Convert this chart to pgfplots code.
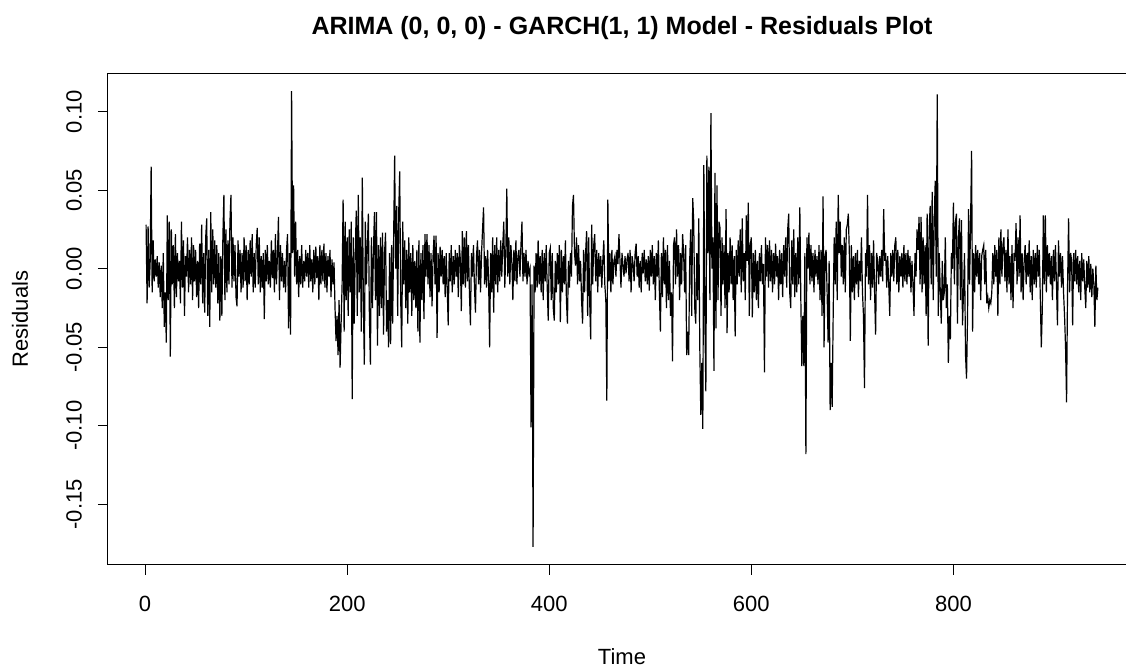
\documentclass[border=0pt]{standalone}
\usepackage{fontspec}
\setmainfont{Liberation Sans}
\usepackage{pgfplots}
\usepackage{pgfplotstable}
\pgfplotsset{compat=1.18}
\pgfplotstableread[header=false,row sep=\\]{
0.028\\ -0.022\\ 0.027\\ -0.012\\ 0.003\\ 0.065\\ -0.015\\ 0.018\\ -0.008\\ 0.006\\
-0.005\\ 0.008\\ -0.012\\ 0.004\\ -0.018\\ 0.002\\ -0.025\\ 0.010\\ -0.037\\ -0.015\\
-0.047\\ 0.034\\ -0.020\\ 0.030\\ -0.056\\ 0.025\\ -0.010\\ 0.015\\ -0.025\\ 0.022\\
-0.018\\ 0.010\\ -0.008\\ 0.005\\ -0.022\\ 0.030\\ -0.012\\ 0.018\\ -0.030\\ 0.008\\
-0.005\\ 0.020\\ -0.015\\ 0.012\\ -0.010\\ 0.020\\ -0.020\\ 0.015\\ -0.008\\ 0.012\\
-0.018\\ 0.005\\ -0.025\\ 0.016\\ -0.010\\ 0.028\\ -0.022\\ 0.010\\ -0.028\\ 0.020\\
0.032\\ -0.030\\ 0.012\\ -0.037\\ 0.036\\ -0.015\\ 0.025\\ -0.010\\ 0.018\\ -0.012\\
0.015\\ -0.022\\ 0.010\\ -0.033\\ 0.008\\ -0.030\\ 0.020\\ 0.047\\ -0.020\\ 0.025\\
-0.015\\ 0.018\\ -0.010\\ 0.030\\ 0.047\\ -0.012\\ 0.020\\ -0.008\\ 0.015\\ -0.018\\
-0.024\\ 0.018\\ -0.005\\ 0.012\\ -0.015\\ 0.010\\ -0.012\\ 0.020\\ -0.008\\ 0.015\\
-0.020\\ 0.012\\ -0.010\\ 0.018\\ -0.005\\ 0.022\\ -0.015\\ 0.010\\ -0.012\\ 0.015\\
0.026\\ -0.010\\ 0.020\\ -0.015\\ 0.008\\ -0.012\\ 0.010\\ -0.032\\ 0.012\\ -0.008\\
0.015\\ -0.010\\ 0.005\\ -0.012\\ 0.018\\ -0.006\\ 0.012\\ -0.015\\ 0.022\\ -0.010\\
0.008\\ 0.033\\ -0.020\\ 0.015\\ -0.008\\ 0.010\\ -0.012\\ 0.005\\ -0.015\\ 0.012\\
0.022\\ -0.038\\ 0.010\\ -0.042\\ 0.113\\ 0.010\\ 0.053\\ -0.005\\ 0.030\\ -0.010\\
0.012\\ -0.018\\ 0.008\\ -0.010\\ 0.015\\ -0.012\\ 0.005\\ -0.008\\ 0.012\\ -0.005\\
0.010\\ -0.012\\ 0.015\\ -0.008\\ 0.006\\ -0.015\\ 0.012\\ -0.010\\ 0.014\\ -0.006\\
0.008\\ -0.020\\ 0.015\\ -0.010\\ 0.012\\ -0.008\\ 0.016\\ -0.012\\ 0.010\\ -0.015\\
0.008\\ -0.005\\ 0.012\\ -0.018\\ 0.006\\ -0.010\\ 0.004\\ -0.025\\ -0.046\\ -0.030\\
-0.055\\ -0.020\\ -0.063\\ -0.035\\ -0.010\\ 0.044\\ -0.040\\ 0.030\\ -0.020\\ 0.020\\
-0.030\\ 0.025\\ -0.015\\ 0.030\\ -0.083\\ 0.020\\ -0.035\\ 0.010\\ 0.037\\ -0.030\\
0.047\\ -0.015\\ 0.020\\ -0.040\\ 0.058\\ -0.020\\ -0.061\\ 0.030\\ -0.010\\ 0.015\\
0.035\\ -0.030\\ -0.061\\ 0.020\\ -0.025\\ 0.010\\ 0.036\\ -0.020\\ 0.036\\ -0.049\\
0.015\\ -0.030\\ 0.020\\ -0.025\\ 0.023\\ -0.042\\ 0.010\\ 0.023\\ -0.040\\ -0.020\\
-0.050\\ 0.010\\ -0.048\\ 0.015\\ -0.035\\ 0.020\\ 0.072\\ 0.000\\ 0.040\\ -0.030\\
0.035\\ 0.062\\ -0.020\\ -0.050\\ 0.030\\ -0.010\\ 0.018\\ -0.025\\ 0.012\\ -0.035\\
0.020\\ -0.015\\ 0.010\\ -0.030\\ 0.015\\ -0.020\\ 0.005\\ -0.025\\ 0.012\\ -0.040\\
0.018\\ -0.047\\ 0.010\\ -0.020\\ 0.015\\ -0.032\\ 0.022\\ -0.005\\ 0.022\\ -0.010\\
0.015\\ -0.018\\ 0.010\\ -0.024\\ 0.008\\ 0.021\\ -0.010\\ 0.021\\ -0.044\\ 0.010\\
-0.015\\ 0.014\\ -0.005\\ 0.012\\ -0.010\\ 0.008\\ -0.018\\ 0.010\\ -0.012\\ -0.036\\
0.010\\ -0.008\\ 0.015\\ -0.015\\ 0.008\\ -0.010\\ 0.012\\ -0.005\\ 0.010\\ -0.018\\
0.015\\ 0.006\\ -0.027\\ 0.024\\ -0.010\\ 0.020\\ -0.012\\ 0.024\\ -0.008\\ 0.015\\
-0.015\\ -0.036\\ 0.010\\ -0.005\\ 0.015\\ -0.012\\ -0.028\\ 0.008\\ 0.018\\ -0.010\\
0.012\\ -0.015\\ 0.010\\ 0.025\\ 0.039\\ -0.010\\ 0.008\\ -0.012\\ 0.012\\ -0.008\\
-0.050\\ 0.010\\ -0.015\\ 0.020\\ -0.028\\ 0.015\\ -0.010\\ 0.020\\ -0.015\\ 0.012\\
-0.008\\ 0.018\\ -0.005\\ 0.015\\ 0.030\\ -0.012\\ 0.010\\ 0.051\\ -0.005\\ 0.020\\
-0.010\\ 0.015\\ 0.005\\ -0.020\\ 0.012\\ -0.008\\ 0.018\\ -0.010\\ 0.008\\ 0.012\\
-0.005\\ 0.015\\ 0.030\\ -0.008\\ 0.010\\ -0.005\\ 0.012\\ -0.010\\ 0.005\\ -0.003\\
0.000\\ -0.101\\ -0.010\\ -0.177\\ 0.002\\ -0.015\\ 0.010\\ -0.012\\ 0.018\\ -0.010\\
0.008\\ -0.015\\ 0.012\\ -0.020\\ 0.010\\ -0.008\\ 0.015\\ -0.012\\ -0.033\\ 0.010\\
0.013\\ -0.020\\ 0.010\\ -0.025\\ -0.033\\ 0.005\\ -0.015\\ 0.010\\ -0.010\\ 0.015\\
-0.034\\ 0.012\\ -0.015\\ 0.008\\ -0.010\\ 0.018\\ -0.020\\ -0.035\\ 0.005\\ -0.012\\
0.010\\ -0.005\\ 0.040\\ 0.047\\ 0.010\\ 0.002\\ 0.020\\ -0.010\\ 0.015\\ -0.008\\
0.005\\ -0.020\\ -0.035\\ 0.012\\ -0.015\\ 0.010\\ 0.024\\ -0.030\\ 0.020\\ -0.020\\
-0.045\\ 0.028\\ -0.010\\ 0.015\\ 0.022\\ -0.008\\ 0.012\\ -0.015\\ 0.010\\ -0.005\\
0.008\\ -0.012\\ 0.005\\ 0.018\\ -0.010\\ -0.020\\ -0.084\\ 0.044\\ -0.008\\ 0.010\\
-0.015\\ 0.012\\ -0.010\\ 0.005\\ 0.008\\ -0.005\\ 0.012\\ 0.003\\ 0.022\\ 0.005\\
-0.012\\ 0.010\\ 0.002\\ -0.005\\ 0.008\\ -0.003\\ 0.006\\ 0.010\\ -0.008\\ 0.012\\
-0.015\\ 0.008\\ 0.003\\ -0.008\\ 0.010\\ 0.016\\ -0.005\\ 0.008\\ -0.012\\ 0.005\\
-0.015\\ 0.010\\ -0.003\\ 0.012\\ -0.008\\ 0.006\\ -0.010\\ 0.008\\ -0.014\\ 0.012\\
-0.005\\ 0.015\\ -0.010\\ 0.008\\ -0.020\\ 0.010\\ -0.005\\ 0.018\\ -0.015\\ -0.040\\
0.010\\ -0.018\\ 0.020\\ -0.010\\ 0.012\\ -0.025\\ 0.015\\ -0.020\\ 0.005\\ -0.030\\
-0.015\\ -0.059\\ 0.015\\ 0.020\\ -0.010\\ 0.025\\ -0.005\\ 0.015\\ -0.020\\ 0.010\\
-0.010\\ 0.022\\ 0.010\\ -0.015\\ 0.015\\ -0.055\\ -0.040\\ -0.055\\ 0.005\\ 0.025\\
-0.030\\ 0.045\\ 0.030\\ -0.025\\ -0.035\\ 0.010\\ -0.020\\ 0.032\\ -0.050\\ -0.093\\
-0.060\\ -0.102\\ 0.066\\ -0.030\\ -0.078\\ 0.072\\ 0.010\\ 0.065\\ -0.020\\ 0.099\\
0.000\\ 0.020\\ -0.065\\ 0.061\\ -0.038\\ 0.053\\ -0.020\\ 0.030\\ 0.026\\ -0.030\\
0.020\\ -0.010\\ 0.015\\ -0.025\\ 0.038\\ -0.041\\ 0.010\\ -0.015\\ 0.020\\ -0.010\\
0.015\\ -0.020\\ 0.008\\ -0.043\\ 0.012\\ -0.010\\ 0.018\\ -0.005\\ 0.025\\ -0.015\\
0.032\\ -0.008\\ 0.010\\ -0.020\\ 0.034\\ 0.005\\ 0.042\\ -0.030\\ 0.015\\ 0.020\\
-0.031\\ 0.010\\ -0.015\\ 0.012\\ -0.020\\ 0.005\\ -0.025\\ 0.010\\ -0.008\\ 0.015\\
-0.010\\ 0.003\\ -0.066\\ 0.020\\ -0.005\\ 0.015\\ -0.012\\ 0.018\\ -0.008\\ 0.012\\
-0.015\\ 0.010\\ -0.010\\ 0.016\\ -0.005\\ 0.008\\ -0.020\\ 0.012\\ -0.010\\ 0.010\\
-0.018\\ 0.015\\ -0.005\\ 0.020\\ -0.012\\ 0.025\\ 0.035\\ -0.015\\ -0.025\\ 0.018\\
-0.010\\ 0.025\\ -0.018\\ 0.010\\ -0.015\\ 0.020\\ -0.010\\ 0.039\\ -0.020\\ -0.062\\
-0.030\\ -0.062\\ 0.010\\ -0.118\\ 0.020\\ 0.000\\ 0.023\\ -0.010\\ 0.015\\ -0.008\\
0.010\\ -0.015\\ 0.012\\ -0.005\\ 0.008\\ -0.010\\ 0.015\\ -0.020\\ 0.012\\ -0.030\\
0.046\\ -0.050\\ 0.008\\ 0.012\\ -0.015\\ -0.047\\ 0.005\\ -0.090\\ -0.060\\ -0.088\\
-0.030\\ 0.020\\ -0.010\\ 0.030\\ -0.020\\ 0.047\\ 0.010\\ 0.030\\ -0.005\\ 0.015\\
-0.010\\ 0.020\\ -0.015\\ 0.025\\ 0.028\\ 0.035\\ 0.010\\ -0.046\\ 0.015\\ -0.015\\
0.008\\ -0.020\\ 0.010\\ -0.010\\ 0.012\\ -0.018\\ 0.005\\ -0.008\\ 0.020\\ -0.015\\
-0.030\\ -0.076\\ 0.010\\ -0.005\\ 0.047\\ -0.010\\ 0.015\\ -0.020\\ 0.010\\ -0.012\\
0.018\\ -0.015\\ -0.042\\ 0.010\\ 0.005\\ -0.010\\ 0.008\\ -0.005\\ 0.012\\ -0.008\\
0.038\\ 0.005\\ 0.010\\ -0.012\\ 0.008\\ -0.010\\ -0.030\\ 0.010\\ -0.005\\ 0.012\\
-0.008\\ 0.015\\ 0.020\\ -0.010\\ 0.012\\ -0.015\\ 0.008\\ -0.005\\ 0.010\\ -0.012\\
0.015\\ -0.008\\ 0.010\\ -0.010\\ 0.012\\ -0.005\\ 0.008\\ -0.015\\ 0.005\\ -0.010\\
-0.030\\ 0.010\\ -0.005\\ 0.025\\ 0.012\\ 0.033\\ -0.010\\ 0.033\\ -0.015\\ 0.020\\
-0.010\\ 0.015\\ -0.030\\ 0.035\\ -0.049\\ 0.025\\ 0.040\\ -0.010\\ 0.049\\ -0.020\\
0.030\\ 0.056\\ -0.005\\ 0.111\\ -0.030\\ 0.010\\ -0.015\\ -0.035\\ 0.005\\ -0.020\\
-0.015\\ 0.020\\ -0.025\\ -0.010\\ -0.060\\ -0.030\\ -0.045\\ 0.010\\ 0.000\\ 0.042\\
-0.010\\ 0.030\\ 0.035\\ -0.035\\ 0.020\\ 0.032\\ -0.020\\ 0.031\\ -0.036\\ -0.015\\
0.010\\ -0.055\\ -0.070\\ -0.030\\ 0.038\\ -0.010\\ 0.030\\ 0.075\\ -0.040\\ 0.010\\
-0.015\\ 0.015\\ -0.005\\ 0.012\\ -0.010\\ 0.010\\ -0.020\\ 0.008\\ 0.012\\ 0.015\\
-0.010\\ 0.012\\ -0.022\\ -0.018\\ -0.025\\ -0.020\\ -0.022\\ -0.015\\ 0.010\\ -0.010\\
0.015\\ -0.005\\ 0.012\\ -0.030\\ 0.020\\ -0.010\\ 0.025\\ -0.005\\ 0.015\\ 0.020\\
-0.008\\ 0.012\\ -0.015\\ 0.025\\ -0.010\\ 0.008\\ -0.020\\ 0.015\\ -0.025\\ 0.010\\
0.005\\ 0.029\\ -0.010\\ 0.020\\ -0.005\\ 0.034\\ -0.015\\ 0.010\\ -0.020\\ 0.005\\
0.015\\ -0.010\\ 0.010\\ -0.005\\ 0.018\\ -0.015\\ 0.008\\ -0.020\\ 0.012\\ -0.010\\
0.010\\ -0.012\\ 0.015\\ -0.005\\ 0.012\\ -0.018\\ -0.050\\ -0.025\\ 0.034\\ -0.010\\
0.034\\ -0.015\\ 0.015\\ -0.005\\ 0.010\\ -0.010\\ 0.008\\ -0.020\\ 0.012\\ -0.008\\
0.015\\ -0.010\\ -0.036\\ 0.018\\ -0.005\\ 0.010\\ -0.012\\ 0.008\\ -0.015\\ -0.030\\
-0.050\\ -0.085\\ -0.010\\ 0.032\\ -0.015\\ 0.010\\ 0.005\\ -0.036\\ 0.010\\ -0.008\\
0.012\\ -0.010\\ 0.008\\ -0.015\\ 0.005\\ -0.020\\ 0.010\\ -0.008\\ 0.006\\ -0.012\\
-0.025\\ 0.005\\ -0.012\\ 0.008\\ -0.015\\ 0.003\\ -0.018\\ 0.000\\ -0.010\\ -0.037\\
0.002\\ -0.020\\ -0.012\\
}\resid
\begin{document}
\begin{tikzpicture}[x=1pt,y=1pt]
\path[use as bounding box] (0,0) rectangle (563,334.5);
\clip (0,0) rectangle (563,334.5);
\begin{axis}[
  at={(54pt,52pt)}, anchor=south west,
  scale only axis,
  width=514pt, height=246pt,
  xmin=-36.7, xmax=980.7,
  ymin=-0.1886, ymax=0.1246,
  axis line style={line width=0.5pt},
  tick style={line width=0.5pt, black},
  tick align=outside,
  xtick pos=lower, ytick pos=left,
  major tick length=5pt,
  xtick={0,200,400,600,800},
  xticklabels={0,200,400,600,800},
  ytick={-0.15,-0.10,-0.05,0,0.05,0.10},
  yticklabels={-0.15,-0.10,-0.05,0.00,0.05,0.10},
  tick label style={font=\fontsize{11}{13}\selectfont},
  xticklabel style={anchor=center, yshift=-14.5pt},
  yticklabel style={anchor=center, xshift=-12pt, rotate=90},
  title={ARIMA (0, 0, 0) - GARCH(1, 1) Model - Residuals Plot},
  title style={at={(axis description cs:0.5,1)}, anchor=center, yshift=16.5pt, font=\bfseries\fontsize{12.5}{15}\selectfont},
  xlabel={Time},
  xlabel style={at={(axis description cs:0.5,0)}, anchor=center, yshift=-46pt, font=\fontsize{11}{13}\selectfont},
  ylabel={Residuals},
  ylabel style={at={(axis description cs:0,0.5)}, anchor=center, yshift=44pt, font=\fontsize{11}{13}\selectfont},
  clip=false,
]
\addplot[black, line width=0.6pt, mark=none] table[x expr=\coordindex+1, y index=0]{\resid};
\end{axis}
\end{tikzpicture}
\end{document}
